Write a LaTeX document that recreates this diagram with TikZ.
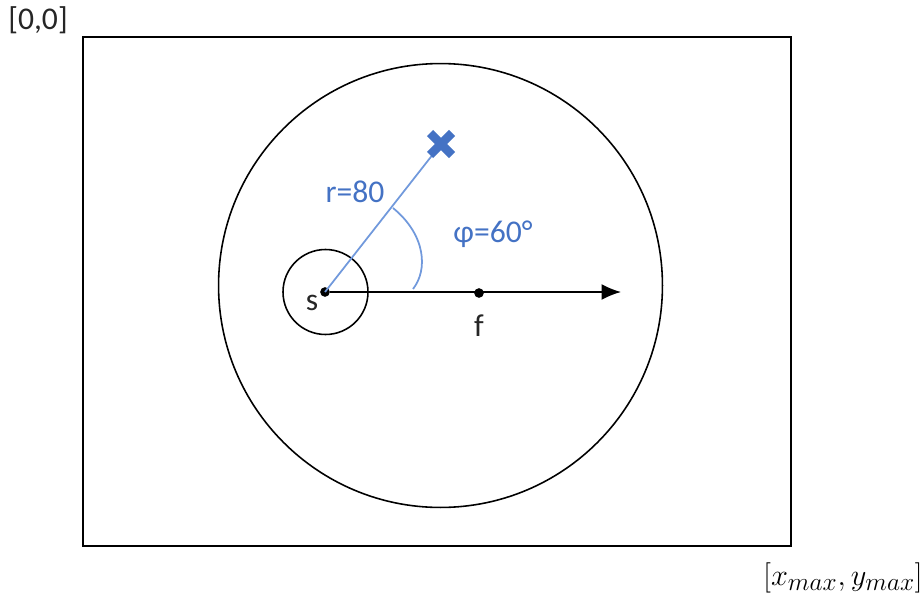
\documentclass[tikz,border=0pt]{standalone}
\usepackage{fontspec}
\setmainfont{Carlito}
\usepackage{tikz}
\usetikzlibrary{arrows.meta,positioning,calc}
\definecolor{polblue}{HTML}{4472C4}
\definecolor{rayblue}{HTML}{7199DC}
\tikzset{
  frame/.style={draw=black, line width=0.9pt},
  ring/.style={draw=black, line width=0.9pt},
  dot/.style={circle, fill=black, inner sep=0pt, minimum size=5.5pt},
  lbl/.style={font=\fontsize{18}{21}\selectfont, inner sep=1pt, text=black!85},
  bluelbl/.style={lbl, text=polblue},
  arr/.style={-{Latex[length=11pt,width=9pt]}, line width=0.9pt, draw=black},
  ray/.style={line width=1pt, draw=rayblue},
}

\begin{document}
\begin{tikzpicture}[x=0.02cm, y=-0.02cm]
        \useasboundingbox (0,0) rectangle (923,598);
        % map and search area
        \draw[frame] (83,37) rectangle (791,546);
        \draw[ring] (440.5,285.5) circle[radius=4.44cm];
        \draw[ring] (325.5,292) circle[radius=0.85cm];
        % points
        \node[dot] (s) at (325,292) {};
        \node[dot] (f) at (479,293) {};
        \coordinate (tip) at (621,292);
        \coordinate (goal) at (441,144);
        \draw[arr] (s) -- (tip);
        \draw[ray] (s.center) -- (goal);
        \draw[line width=5pt, draw=polblue] ($(goal)+(-11,-11)$) -- ($(goal)+(11,11)$)
                                             ($(goal)+(-11,11)$) -- ($(goal)+(11,-11)$);
        \draw[ray] (393,208) .. controls (426,235) and (428,270) .. (413,289);
        % labels
        \node[lbl] (lo) at (38,20) {[0,0]};
        \node[lbl] (sl) at (312,303) {s};
        \node[lbl] (fl) at (479,326) {f};
        \node[bluelbl] (rl) at (355,192) {r=80};
        \node[bluelbl] (phil) at (493,234) {φ=60°};
        \node[font=\fontsize{19}{22}\selectfont, inner sep=0pt] (hi) at (843,578) {$[x_{max},y_{max}]$};
      \end{tikzpicture}
\end{document}
